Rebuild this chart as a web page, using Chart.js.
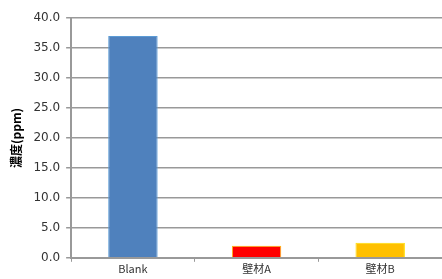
<!DOCTYPE html>
<html>
<head>
<meta charset="utf-8">
<script src="https://cdn.jsdelivr.net/npm/chart.js@4"></script>
<style>
  html, body { margin: 0; padding: 0; background: #fff; }
  #wrap { width: 442px; height: 279px; }
</style>
</head>
<body>
<div id="wrap"><canvas id="c" width="442" height="279"></canvas></div>
<script>
const categories = ["Blank", "壁材A", "壁材B"];
const values = [37.0, 2.0, 2.5];
const barColors = ["#4f81bd", "#ff0000", "#ffc000"];
const barBorders = ["#5b9bd5", "#ffc000", "#ffe000"];

const ctx = document.getElementById("c").getContext("2d");
new Chart(ctx, {
  type: "bar",
  data: {
    labels: categories,
    datasets: [{
      data: values,
      backgroundColor: barColors,
      borderColor: barBorders,
      borderWidth: 1,
      barPercentage: 0.4,
      categoryPercentage: 1.0
    }]
  },
  options: {
    responsive: false,
    animation: false,
    layout: { padding: { top: 18, right: 0, left: 5, bottom: 4 } },
    plugins: { legend: { display: false }, tooltip: { enabled: false } },
    scales: {
      x: {
        grid: { display: true, drawOnChartArea: false, offset: true, color: "#999", tickLength: 4 },
        border: { color: "#999", width: 2 },
        ticks: { color: "#333", font: { family: "Noto Sans CJK JP", size: 11 }, padding: 0 }
      },
      y: {
        min: 0,
        max: 40,
        ticks: {
          stepSize: 5,
          color: "#333",
          padding: 6,
          font: { family: "DejaVu Sans", size: 12 },
          callback: function (value) { return value.toFixed(1); }
        },
        grid: { color: "#999", lineWidth: 1.5, tickLength: 5 },
        border: { color: "#999", width: 2 },
        title: {
          display: true,
          text: "濃度(ppm)",
          color: "#000",
          font: { family: "Noto Sans CJK JP", size: 12, weight: "bold" },
          padding: 4
        }
      }
    }
  }
});
</script>
</body>
</html>
